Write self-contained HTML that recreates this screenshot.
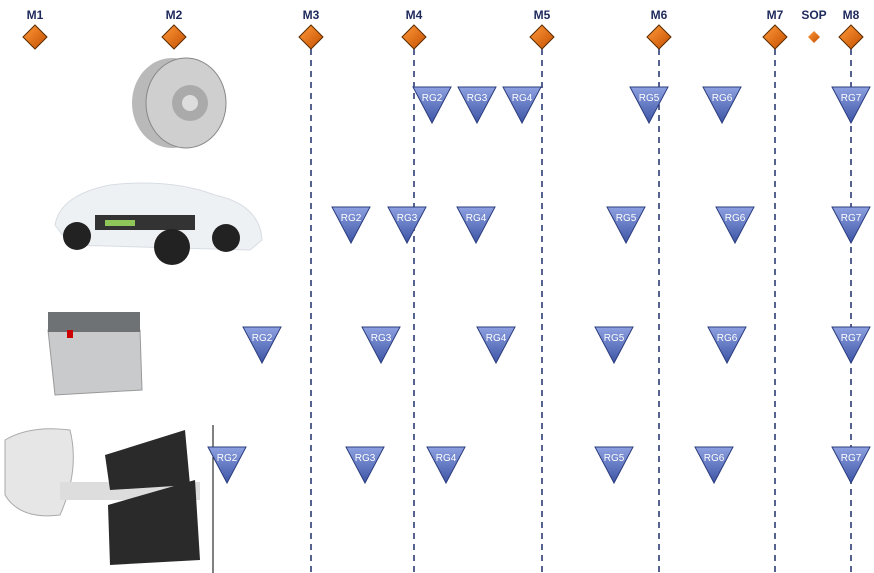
<!DOCTYPE html>
<html><head><meta charset="utf-8"><style>
html,body{margin:0;padding:0;background:#fff;}
svg{display:block;}
text{font-family:"Liberation Sans",sans-serif;}
.m{font-size:12px;font-weight:bold;fill:#1f2a5c;text-anchor:middle;}
.rg{font-size:10px;fill:#fff;text-anchor:middle;}
</style></head><body>
<svg width="874" height="573" viewBox="0 0 874 573" xmlns="http://www.w3.org/2000/svg">
<defs>
<linearGradient id="tg" x1="0" y1="0" x2="0" y2="1"><stop offset="0" stop-color="#8da0e0"/><stop offset="1" stop-color="#3d55a6"/></linearGradient>
<linearGradient id="dg" x1="0" y1="0" x2="1" y2="1"><stop offset="0" stop-color="#ff9a3a"/><stop offset="1" stop-color="#c44e00"/></linearGradient>
<g id="tri"><polygon points="-19,0 19,0 0,36" fill="url(#tg)" stroke="#2c3d7e" stroke-width="1"/></g>
<g id="dia"><polygon points="0,-12 12,0 0,12 -12,0" fill="url(#dg)" stroke="#5a2a00" stroke-width="1"/></g>
</defs>
<g stroke="#1f2f6a" stroke-width="1.5" stroke-dasharray="6,5">
<line x1="311" y1="49" x2="311" y2="573"/><line x1="414" y1="49" x2="414" y2="573"/>
<line x1="542" y1="49" x2="542" y2="573"/><line x1="659" y1="49" x2="659" y2="573"/>
<line x1="775" y1="49" x2="775" y2="573"/><line x1="851" y1="49" x2="851" y2="573"/>
</g>
<line x1="213" y1="425" x2="213" y2="573" stroke="#000" stroke-width="1"/>
<text class="m" x="35" y="19">M1</text><use href="#dia" x="35" y="37"/>
<text class="m" x="174" y="19">M2</text><use href="#dia" x="174" y="37"/>
<text class="m" x="311" y="19">M3</text><use href="#dia" x="311" y="37"/>
<text class="m" x="414" y="19">M4</text><use href="#dia" x="414" y="37"/>
<text class="m" x="542" y="19">M5</text><use href="#dia" x="542" y="37"/>
<text class="m" x="659" y="19">M6</text><use href="#dia" x="659" y="37"/>
<text class="m" x="775" y="19">M7</text><use href="#dia" x="775" y="37"/>
<text class="m" x="814" y="19">SOP</text><polygon points="814,31 820,37 814,43 808,37" fill="url(#dg)"/>
<text class="m" x="851" y="19">M8</text><use href="#dia" x="851" y="37"/>
<!-- images -->
<ellipse cx="172" cy="103" rx="40" ry="45" fill="#b9b9b9"/>
<ellipse cx="186" cy="103" rx="40" ry="45" fill="#cfcfcf" stroke="#888"/>
<circle cx="190" cy="103" r="18" fill="#aaa"/><circle cx="190" cy="103" r="8" fill="#ddd"/>
<path d="M55,225 Q60,195 110,185 Q170,178 215,195 Q260,205 262,240 L250,250 L70,245 Z" fill="#eef1f4" stroke="#d8dde3"/>
<rect x="95" y="215" width="100" height="15" fill="#333"/><rect x="105" y="220" width="30" height="6" fill="#8fc65a"/>
<circle cx="77" cy="236" r="14" fill="#222"/><circle cx="172" cy="247" r="18" fill="#222"/><circle cx="226" cy="238" r="14" fill="#222"/>
<path d="M48,330 L140,330 L142,390 L55,395 Z" fill="#c8cacc" stroke="#999"/>
<rect x="48" y="312" width="92" height="20" fill="#6f7275"/><rect x="67" y="330" width="6" height="8" fill="#c00"/>
<path d="M5,440 Q30,425 70,430 Q80,470 60,515 Q20,520 5,495 Z" fill="#e6e6e6" stroke="#aaa"/>
<rect x="60" y="482" width="140" height="18" fill="#ddd"/>
<path d="M105,455 L185,430 L190,485 L110,490 Z" fill="#2a2a2a"/>
<path d="M108,505 L195,480 L200,560 L110,565 Z" fill="#2a2a2a"/>
<!-- triangles -->
<g class="rg">
<use href="#tri" x="432" y="87"/><text x="432" y="101">RG2</text>
<use href="#tri" x="477" y="87"/><text x="477" y="101">RG3</text>
<use href="#tri" x="522" y="87"/><text x="522" y="101">RG4</text>
<use href="#tri" x="649" y="87"/><text x="649" y="101">RG5</text>
<use href="#tri" x="722" y="87"/><text x="722" y="101">RG6</text>
<use href="#tri" x="851" y="87"/><text x="851" y="101">RG7</text>
<use href="#tri" x="351" y="207"/><text x="351" y="221">RG2</text>
<use href="#tri" x="407" y="207"/><text x="407" y="221">RG3</text>
<use href="#tri" x="476" y="207"/><text x="476" y="221">RG4</text>
<use href="#tri" x="626" y="207"/><text x="626" y="221">RG5</text>
<use href="#tri" x="735" y="207"/><text x="735" y="221">RG6</text>
<use href="#tri" x="851" y="207"/><text x="851" y="221">RG7</text>
<use href="#tri" x="262" y="327"/><text x="262" y="341">RG2</text>
<use href="#tri" x="381" y="327"/><text x="381" y="341">RG3</text>
<use href="#tri" x="496" y="327"/><text x="496" y="341">RG4</text>
<use href="#tri" x="614" y="327"/><text x="614" y="341">RG5</text>
<use href="#tri" x="727" y="327"/><text x="727" y="341">RG6</text>
<use href="#tri" x="851" y="327"/><text x="851" y="341">RG7</text>
<use href="#tri" x="227" y="447"/><text x="227" y="461">RG2</text>
<use href="#tri" x="365" y="447"/><text x="365" y="461">RG3</text>
<use href="#tri" x="446" y="447"/><text x="446" y="461">RG4</text>
<use href="#tri" x="614" y="447"/><text x="614" y="461">RG5</text>
<use href="#tri" x="714" y="447"/><text x="714" y="461">RG6</text>
<use href="#tri" x="851" y="447"/><text x="851" y="461">RG7</text>
</g>
</svg>
</body></html>
